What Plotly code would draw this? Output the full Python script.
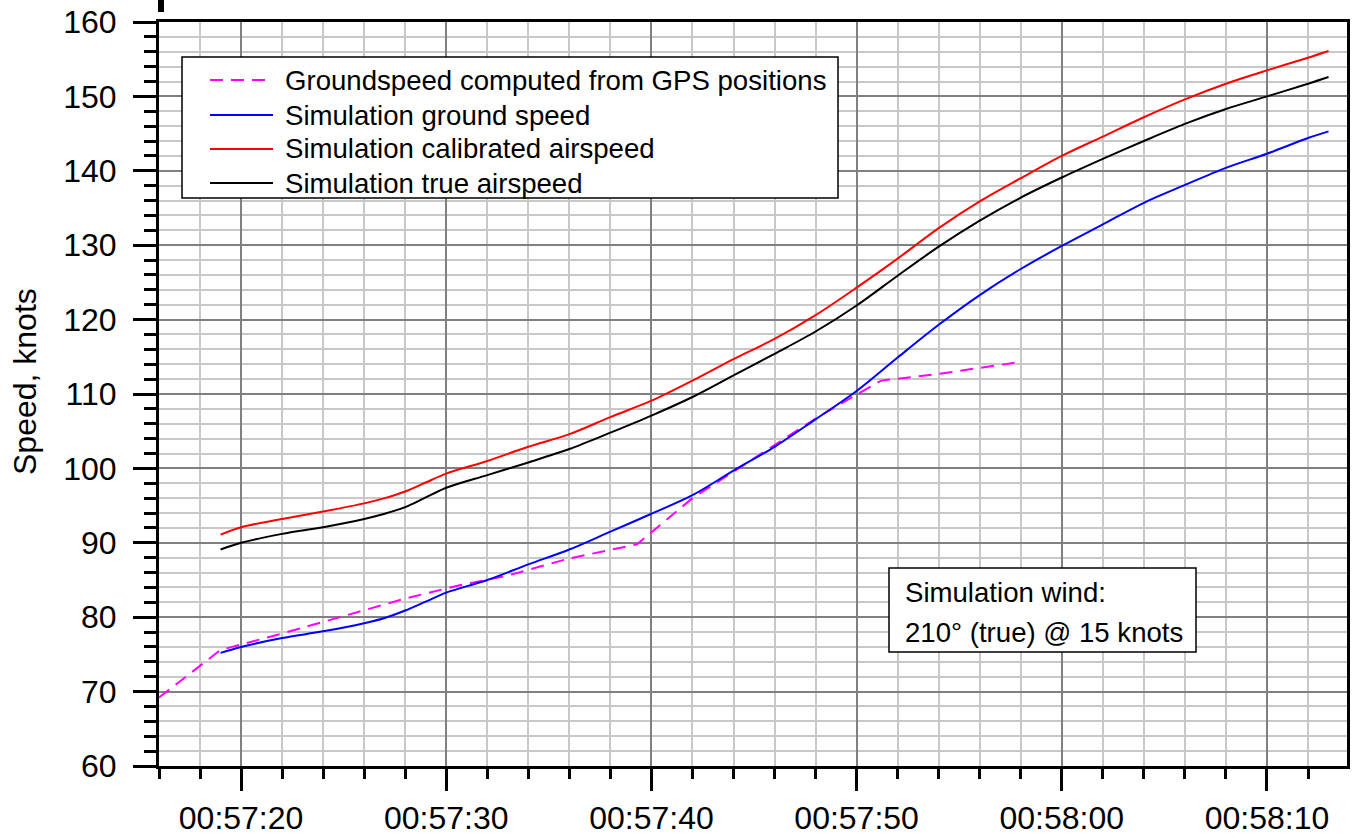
import pandas as pd
import plotly.graph_objects as go

# ---- data (seconds after 00:57:00, speed in knots) ----
gps_t = [16.0, 19.0, 22.0, 25.0, 28.0, 30.5, 33.0, 36.0, 39.3, 42.0, 44.0, 46.0, 48.0, 50.3, 51.2, 54.0, 57.7]
gps_v = [69.2, 75.6, 77.8, 80.2, 82.5, 84.2, 85.6, 87.9, 89.8, 96.0, 99.6, 103.2, 106.7, 110.4, 111.8, 112.7, 114.2]

sim_t = [19, 20, 22, 24, 26, 27, 28, 29, 30, 32, 34, 36, 38, 40, 42, 44, 46, 48, 50, 52, 54, 56, 58, 60, 62, 64, 66, 68, 70, 72, 73]
gs_v = [75.2, 76.0, 77.2, 78.1, 79.2, 79.9, 80.9, 82.1, 83.3, 85.0, 87.1, 89.1, 91.5, 93.9, 96.4, 99.7, 102.9, 106.6,
        110.4, 114.9, 119.3, 123.3, 126.8, 129.9, 132.8, 135.7, 138.1, 140.4, 142.3, 144.4, 145.3]
cas_v = [91.1, 92.1, 93.2, 94.2, 95.3, 96.0, 96.9, 98.1, 99.3, 101.0, 102.9, 104.6, 106.9, 109.1, 111.8, 114.7, 117.4, 120.6,
         124.3, 128.2, 132.3, 135.9, 139.0, 142.0, 144.6, 147.2, 149.6, 151.7, 153.5, 155.2, 156.1]
tas_v = [89.1, 90.0, 91.2, 92.1, 93.2, 93.9, 94.8, 96.1, 97.4, 99.1, 100.8, 102.6, 104.8, 107.1, 109.6, 112.5, 115.4, 118.4,
         121.9, 125.9, 129.8, 133.3, 136.4, 139.1, 141.6, 144.0, 146.3, 148.3, 150.0, 151.7, 152.6]

names = ["Groundspeed computed from GPS positions", "Simulation ground speed",
         "Simulation calibrated airspeed", "Simulation true airspeed"]
colors = ["#ff00ff", "#0000ff", "#ff0000", "#000000"]
dashes = ["13px,8px", "solid", "solid", "solid"]
x_range_s = [16.0, 73.9]
y_range = [60, 160]
wind_lines = ["Simulation wind:", "210° (true) @ 15 knots"]

base = pd.Timestamp("2024-01-01 00:57:00")


def ts(sec_list):
    return [base + pd.to_timedelta(s, unit="s") for s in sec_list]


FONT = "Liberation Sans, Arial, sans-serif"
W, H = 1354, 838
ML, MR, MT, MB = 159, 7, 22, 72
PW, PH = W - ML - MR, H - MT - MB


def px_x(p):
    return (p - ML) / PW


def px_y(p):
    return 1 - (p - MT) / PH


fig = go.Figure()
series = [(gps_t, gps_v, "linear"), (sim_t, gs_v, "spline"), (sim_t, cas_v, "spline"), (sim_t, tas_v, "spline")]
for i, (t, v, shp) in enumerate(series):
    line = dict(color=colors[i], width=2, dash=dashes[i], shape=shp)
    if shp == "spline":
        line["smoothing"] = 0.9
    fig.add_trace(go.Scatter(x=ts(t), y=v, mode="lines", name=names[i], line=line, showlegend=False))

fig.update_layout(
    width=W, height=H,
    margin=dict(l=ML, r=MR, t=MT, b=MB, autoexpand=False),
    paper_bgcolor="white", plot_bgcolor="white",
    font=dict(family=FONT, color="black"),
    showlegend=False,
    xaxis=dict(
        type="date", range=ts(x_range_s), tickformat="%H:%M:%S",
        tick0=base, dtick=10000,
        ticks="outside", ticklen=22, tickwidth=3, tickcolor="black",
        tickfont=dict(size=32, family=FONT, color="black"),
        showline=True, linewidth=3, linecolor="black", mirror=True,
        showgrid=True, gridcolor="#808080", gridwidth=1.5,
        zeroline=False,
        minor=dict(dtick=2000, tick0=base, ticks="outside", ticklen=10, tickwidth=3,
                   tickcolor="black", showgrid=True, gridcolor="#c8c8c8", gridwidth=1.5),
    ),
    yaxis=dict(
        range=y_range, tick0=60, dtick=10,
        ticks="outside", ticklen=23, tickwidth=3, tickcolor="black",
        tickfont=dict(size=32, family=FONT, color="black"),
        ticklabelstandoff=10,
        showline=True, linewidth=3, linecolor="black", mirror=True,
        showgrid=True, gridcolor="#808080", gridwidth=1.5,
        zeroline=False,
        minor=dict(dtick=2, tick0=60, ticks="outside", ticklen=12, tickwidth=3,
                   tickcolor="black", showgrid=True, gridcolor="#c8c8c8", gridwidth=1.5),
    ),
)

# y-axis title
fig.add_annotation(xref="paper", yref="paper", x=px_x(25), y=px_y(382), xanchor="center", yanchor="middle",
                   text="Speed, knots", textangle=-90, showarrow=False,
                   font=dict(size=32, family=FONT, color="black"))

# legend box (drawn from the series names / styles)
fig.add_shape(type="rect", xref="paper", yref="paper", x0=px_x(182), x1=px_x(838), y0=px_y(198), y1=px_y(57),
              fillcolor="white", line=dict(color="black", width=1.5), layer="above")
row_y = [80, 115, 149, 183]
for i, name in enumerate(names):
    fig.add_shape(type="line", xref="paper", yref="paper", x0=px_x(210), x1=px_x(273),
                  y0=px_y(row_y[i]), y1=px_y(row_y[i]),
                  line=dict(color=colors[i], width=2, dash=dashes[i]), layer="above")
    fig.add_annotation(xref="paper", yref="paper", x=px_x(283), y=px_y(row_y[i]), xanchor="left",
                       yanchor="middle", text=name, showarrow=False,
                       font=dict(size=27.6, family=FONT, color="black"))

# wind note box
fig.add_shape(type="rect", xref="paper", yref="paper", x0=px_x(889), x1=px_x(1196), y0=px_y(652), y1=px_y(568),
              fillcolor="white", line=dict(color="black", width=1.5), layer="above")
for j, (txt, yy) in enumerate(zip(wind_lines, [592, 632])):
    fig.add_annotation(xref="paper", yref="paper", x=px_x(903), y=px_y(yy), xanchor="left", yanchor="middle",
                       text=txt, showarrow=False, font=dict(size=27.6, family=FONT, color="black"))

# small clipped title fragment visible at the top-left of the reference
fig.add_shape(type="rect", xref="paper", yref="paper", x0=px_x(158), x1=px_x(164),
              y0=px_y(12), y1=px_y(0), fillcolor="black", line=dict(width=0))

fig.write_html("out.html")
